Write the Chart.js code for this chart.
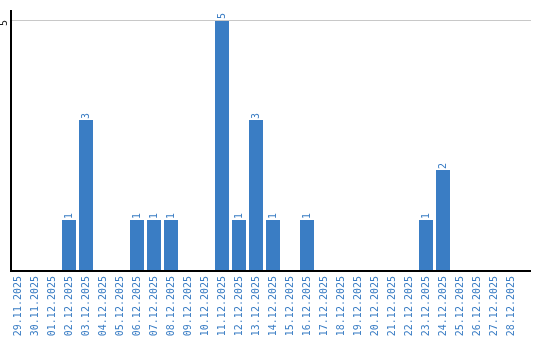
<!DOCTYPE html>
<html>
<head>
<meta charset="utf-8">
<script src="https://cdn.jsdelivr.net/npm/chart.js@4.4.1/dist/chart.umd.min.js"></script>
<style>
html,body{margin:0;padding:0;background:#fff;}
#wrap{width:540px;height:340px;position:relative;}
</style>
</head>
<body>
<div id="wrap"><canvas id="c" width="540" height="340"></canvas></div>
<script>
const categories = ["29.11.2025","30.11.2025","01.12.2025","02.12.2025","03.12.2025","04.12.2025","05.12.2025","06.12.2025","07.12.2025","08.12.2025","09.12.2025","10.12.2025","11.12.2025","12.12.2025","13.12.2025","14.12.2025","15.12.2025","16.12.2025","17.12.2025","18.12.2025","19.12.2025","20.12.2025","21.12.2025","22.12.2025","23.12.2025","24.12.2025","25.12.2025","26.12.2025","27.12.2025","28.12.2025"];
const counts = [0,0,0,1,3,0,0,1,1,1,0,0,5,1,3,1,0,1,0,0,0,0,0,0,1,2,0,0,0,0];
const yTickLabels = [5];

const BLUE = "#3a7dc4";
const FONT = "DejaVu Sans Mono";

const decor = {
  id: "decor",
  afterDatasetsDraw(chart) {
    const ctx = chart.ctx;
    const ys = chart.scales.y;
    const area = chart.chartArea;
    const rightEnd = 531;
    ctx.save();
    // gridlines for labelled ticks
    yTickLabels.forEach(v => {
      const y = Math.round(ys.getPixelForValue(v)) + 0.5;
      ctx.strokeStyle = "#c8c8c8";
      ctx.lineWidth = 1;
      ctx.beginPath();
      ctx.moveTo(11, y);
      ctx.lineTo(rightEnd, y);
      ctx.stroke();
      ctx.save();
      ctx.translate(4.5, y - 0.5);
      ctx.rotate(-Math.PI / 2);
      ctx.fillStyle = "#222";
      ctx.font = "10px '" + FONT + "'";
      ctx.textAlign = "right";
      ctx.textBaseline = "middle";
      ctx.fillText(String(v), 0, 0);
      ctx.restore();
    });
    // axes
    ctx.strokeStyle = "#000";
    ctx.lineWidth = 2;
    ctx.beginPath();
    ctx.moveTo(11, area.top);
    ctx.lineTo(11, area.bottom + 2);
    ctx.stroke();
    ctx.beginPath();
    ctx.moveTo(10, area.bottom + 1);
    ctx.lineTo(rightEnd, area.bottom + 1);
    ctx.stroke();
    // value labels
    const meta = chart.getDatasetMeta(0);
    ctx.fillStyle = BLUE;
    ctx.font = "10px '" + FONT + "'";
    meta.data.forEach((bar, i) => {
      const v = counts[i];
      if (!v) return;
      ctx.save();
      ctx.translate(bar.x, bar.y - 1);
      ctx.rotate(-Math.PI / 2);
      ctx.textAlign = "left";
      ctx.textBaseline = "middle";
      ctx.fillText(String(v), 0, 0);
      ctx.restore();
    });
    ctx.restore();
  }
};

new Chart(document.getElementById("c"), {
  type: "bar",
  data: {
    labels: categories,
    datasets: [{
      data: counts,
      backgroundColor: BLUE,
      borderWidth: 0,
      barPercentage: 14 / 17,
      categoryPercentage: 1
    }]
  },
  options: {
    responsive: false,
    animation: false,
    devicePixelRatio: 1,
    layout: { padding: { left: 9.5, right: 20.5, top: 10, bottom: 0 } },
    plugins: { legend: { display: false }, tooltip: { enabled: false } },
    scales: {
      x: {
        offset: true,
        grid: { display: false, drawTicks: false },
        border: { display: false },
        ticks: {
          autoSkip: false,
          minRotation: 90,
          maxRotation: 90,
          padding: 6,
          color: BLUE,
          font: { family: FONT, size: 10 }
        },
        afterFit(scale) { scale.height = 70; }
      },
      y: {
        display: false,
        min: 0,
        max: 5.2
      }
    }
  },
  plugins: [decor]
});
</script>
</body>
</html>
